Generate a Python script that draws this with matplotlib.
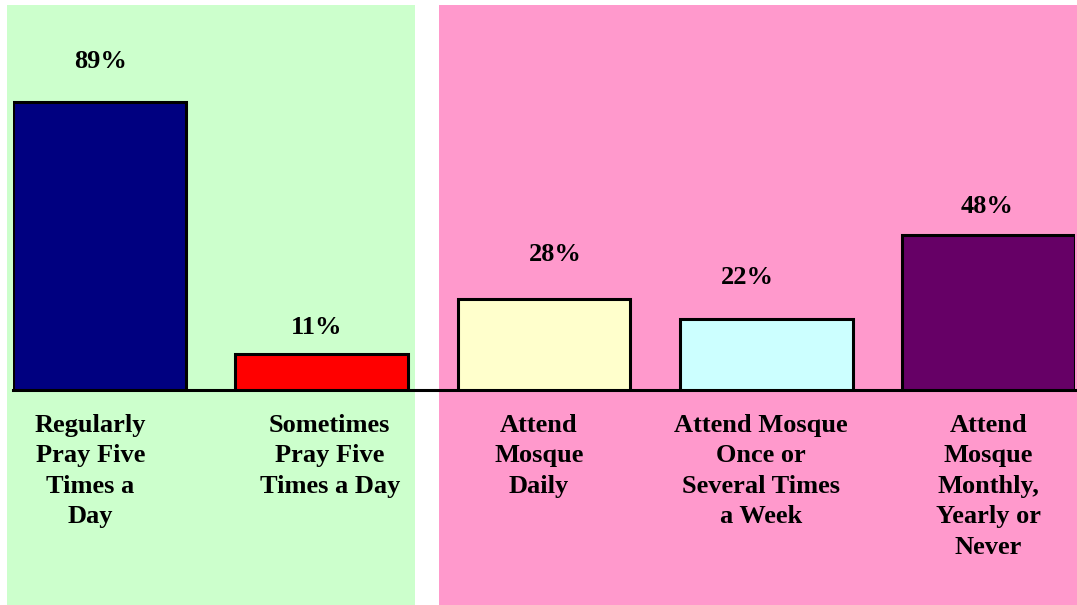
import matplotlib.pyplot as plt
from matplotlib.patches import Rectangle

categories = ["Regularly\nPray Five\nTimes a\nDay",
              "Sometimes\nPray Five\nTimes a Day",
              "Attend\nMosque\nDaily",
              "Attend Mosque\nOnce or\nSeveral Times\na Week",
              "Attend\nMosque\nMonthly,\nYearly or\nNever"]
values = [89, 11, 28, 22, 48]
labels = ["89%", "11%", "28%", "22%", "48%"]
bar_colors = ["#000080", "#FF0000", "#FFFFCC", "#CCFFFF", "#660066"]

# label placement nudges (pixels), as in the original layout
label_gap_px = [40, 27, 45, 41, 28]
label_dx_px = [1, -5, 11, -19, -1]
cat_dx_px = [-9, 8, -5, -5, 0]

W, H = 1077, 605
fig = plt.figure(figsize=(W / 100, H / 100), dpi=100)
fig.patch.set_facecolor("white")

# background panels, pixel coords from top-left
def px_rect(x0, y0, x1, y1, color):
    fig.patches.append(Rectangle((x0 / W, 1 - y1 / H), (x1 - x0) / W, (y1 - y0) / H,
                                 transform=fig.transFigure, facecolor=color,
                                 edgecolor="none", zorder=0))

px_rect(7, 5, 415, 605, "#CCFFCC")
px_rect(439, 5, 1077, 605, "#FF99CC")

base_y = 390
top_y = 5
left_x, right_x = 13, 1075
ax = fig.add_axes([left_x / W, 1 - base_y / H, (right_x - left_x) / W, (base_y - top_y) / H])
ax.set_zorder(2)
ax.patch.set_alpha(0)

x = list(range(len(values)))
slot_px = 222.3
width = 173 / slot_px
ax.bar(x, values, width=width, color=bar_colors, edgecolor="black", linewidth=2.2, zorder=3)
ax.set_xlim(-width / 2, len(values) - 1 + width / 2)
px_per_unit = 3.236
ax.set_ylim(0, (base_y - top_y) / px_per_unit)

for xi, v, lab, g, dx in zip(x, values, labels, label_gap_px, label_dx_px):
    ax.text(xi + dx / slot_px, v + g / px_per_unit, lab, ha="center", va="center",
            fontsize=19, fontweight="bold", family="Liberation Serif")

for xi, cat, dx in zip(x, categories, cat_dx_px):
    ax.text(xi + dx / slot_px, -(414 - base_y) / px_per_unit, cat, ha="center", va="top",
            fontsize=19, fontweight="bold", family="Liberation Serif",
            linespacing=1.41, clip_on=False)

for s in ["top", "right", "left"]:
    ax.spines[s].set_visible(False)
ax.spines["bottom"].set_linewidth(2.2)
ax.set_xticks([])
ax.set_yticks([])

fig.savefig("out.png", dpi=100)
